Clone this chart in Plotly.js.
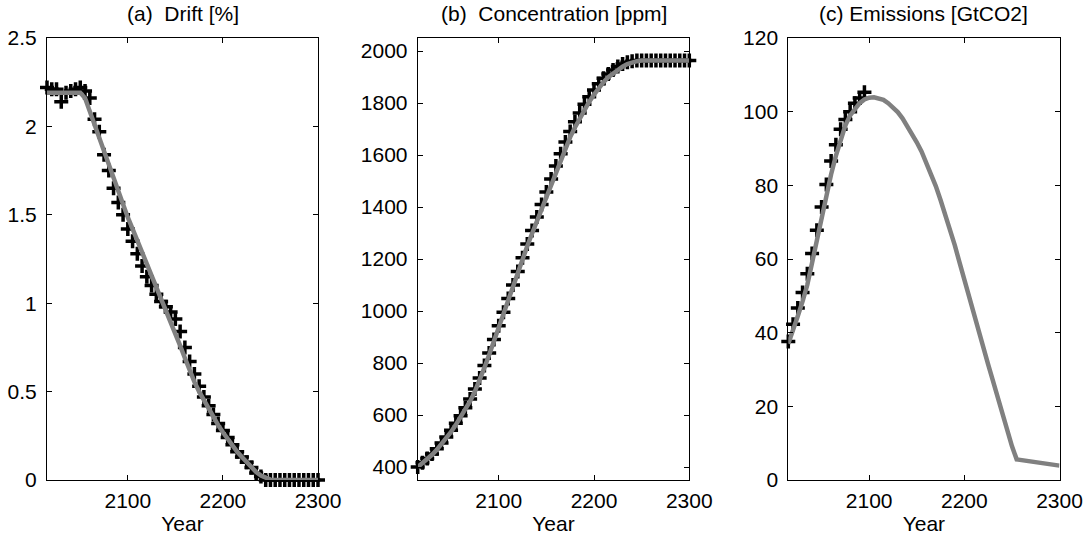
<!DOCTYPE html>
<html>
<head>
<meta charset="utf-8">
<script src="https://cdn.plot.ly/plotly-3.0.1.min.js"></script>
<style>html,body{margin:0;padding:0;background:#fff;}#chart{width:1089px;height:541px;}</style>
</head>
<body>
<div id="chart"></div>
<script>
// Years (5-year steps)
const years = [2015,2020,2025,2030,2035,2040,2045,2050,2055,2060,2065,2070,2075,2080,2085,2090,2095,2100,2105,2110,2115,2120,2125,2130,2135,2140,2145,2150,2155,2160,2165,2170,2175,2180,2185,2190,2195,2200,2205,2210,2215,2220,2225,2230,2235,2240,2245,2250,2255,2260,2265,2270,2275,2280,2285,2290,2295,2300];

// (a) Drift [%]
const driftMarkers = [2.22,2.21,2.21,2.14,2.19,2.20,2.21,2.22,2.20,2.16,2.04,1.97,1.84,1.75,1.65,1.57,1.50,1.42,1.35,1.28,1.21,1.15,1.10,1.05,1.01,0.98,0.95,0.91,0.84,0.75,0.67,0.60,0.53,0.47,0.42,0.37,0.32,0.28,0.24,0.20,0.16,0.13,0.10,0.07,0.04,0.02,0.0,0.0,0.0,0.0,0.0,0.0,0.0,0.0,0.0,0.0,0.0,0.0];
const driftLine = [2.19,2.19,2.19,2.19,2.19,2.19,2.19,2.19,2.16,2.085,2.01,1.935,1.86,1.785,1.71,1.63,1.545,1.485,1.42,1.355,1.29,1.23,1.165,1.10,1.035,0.97,0.90,0.83,0.76,0.69,0.62,0.555,0.50,0.45,0.40,0.355,0.31,0.27,0.23,0.195,0.16,0.13,0.10,0.07,0.045,0.025,0.01,0.002,0,0,0,0,0,0,0,0,0,0];

// (b) Concentration [ppm]
const concMarkers = [400,416,433,450,470,492,515,541,568,597,628,662,700,742,790,838,890,943,995,1048,1100,1152,1205,1258,1310,1362,1410,1458,1508,1558,1605,1650,1690,1728,1762,1795,1824,1850,1874,1895,1912,1927,1940,1950,1957,1961,1963,1963,1963,1963,1963,1963,1963,1963,1963,1963,1963,1963];
const concLine = [400,414,430,447,466,487,510,535,562,590,620,653,690,733,782,832,885,940,995,1048,1100,1150,1200,1250,1298,1345,1390,1435,1483,1533,1583,1630,1669,1706,1742,1775,1805,1832,1858,1880,1899,1914,1928,1940,1950,1957,1961,1963,1963,1963,1963,1963,1963,1963,1963,1963,1963,1963];

// (c) Emissions [GtCO2]
const emisYears = [2015,2020,2025,2030,2035,2040,2045,2050,2055,2060,2065,2070,2075,2080,2085,2090,2095];
const emisMarkers = [37.6,42.3,46.7,50.9,56.0,61.5,67.8,74.1,80.2,86.6,91.0,95.2,97.9,100.0,102.3,103.7,105.3];
const emisLine = [37,40.5,44.5,48.5,53,59,65,71,77.5,83,88,92.5,96.3,99,100.8,102.3,103.3,103.8,103.9,103.7,103.2,102.3,101.2,99.9,98.2,96.2,94.0,91.7,89.2,86.3,83.1,79.8,76.0,72.0,68.1,63.7,59.0,54.3,49.4,44.5,40.0,35.7,31.4,27.0,22.5,17.9,13.5,9.2,5.6,5.4,5.2,5.0,4.8,4.6,4.5,4.3,4.1,3.9];

// Axis tick definitions
const xTicks = [2100,2200,2300];
const driftTicks = [0,0.5,1,1.5,2,2.5];
const concTicks = [400,600,800,1000,1200,1400,1600,1800,2000];
const emisTicks = [0,20,40,60,80,100,120];

const titles = ['(a)\u00a0 Drift [%]','(b)\u00a0 Concentration [ppm]','(c) Emissions [GtCO2]'];

const markerStyle = {symbol:'cross-thin', size:10, color:'#000', line:{color:'#000', width:3.5}};
const lineStyle = {color:'#808080', width:4.5};

const traces = [
  {x:years, y:driftMarkers, mode:'markers', marker:markerStyle, xaxis:'x', yaxis:'y', showlegend:false, cliponaxis:false},
  {x:years, y:driftLine, mode:'lines', line:lineStyle, xaxis:'x', yaxis:'y', showlegend:false},
  {x:years, y:concMarkers, mode:'markers', marker:markerStyle, xaxis:'x2', yaxis:'y2', showlegend:false, cliponaxis:false},
  {x:years, y:concLine, mode:'lines', line:lineStyle, xaxis:'x2', yaxis:'y2', showlegend:false},
  {x:emisYears, y:emisMarkers, mode:'markers', marker:markerStyle, xaxis:'x3', yaxis:'y3', showlegend:false, cliponaxis:false},
  {x:years, y:emisLine, mode:'lines', line:lineStyle, xaxis:'x3', yaxis:'y3', showlegend:false}
];

const W = 1089, H = 541;
const fam = 'Liberation Sans, Arial, sans-serif';
const font = {family:fam, size:21, color:'#000'};
const yDom = [(H-480)/H, (H-38)/H];
const xDoms = [[47/W, 318/W],[417.7/W, 689.3/W],[788.3/W, 1059.5/W]];

function xAxis(dom, anchor){
  return {domain:dom, anchor:anchor, range:[2015,2300], tickvals:xTicks, ticks:'inside', ticklen:5, tickcolor:'#000',
    showline:true, linecolor:'#000', linewidth:1, mirror:'ticks', showgrid:false, zeroline:false,
    tickfont:font, ticklabelstandoff:2,
    title:{text:'Year', font:font, standoff:0}};
}
function yAxis(range, ticks, anchor){
  return {domain:yDom, anchor:anchor, range:range, tickvals:ticks, ticks:'inside', ticklen:5, tickcolor:'#000',
    showline:true, linecolor:'#000', linewidth:1, mirror:'ticks', showgrid:false, zeroline:false,
    tickfont:font, ticklabelstandoff:5};
}

const annotations = titles.map((t,i)=>({
  text:t, xref:'paper', yref:'paper', x:(xDoms[i][0]+xDoms[i][1])/2, y:(H-14)/H,
  xanchor:'center', yanchor:'middle', showarrow:false, font:{family:fam, size:21, color:'#000'}
}));

const layout = {
  width:W, height:H, margin:{l:0,r:0,t:0,b:0}, paper_bgcolor:'#fff', plot_bgcolor:'#fff',
  font:font, showlegend:false,
  xaxis:xAxis(xDoms[0],'y'), yaxis:yAxis([0,2.5], driftTicks,'x'),
  xaxis2:xAxis(xDoms[1],'y2'), yaxis2:yAxis([350,2050], concTicks,'x2'),
  xaxis3:xAxis(xDoms[2],'y3'), yaxis3:yAxis([0,120], emisTicks,'x3'),
  annotations:annotations
};

Plotly.newPlot('chart', traces, layout, {staticPlot:true, displayModeBar:false});
</script>
</body>
</html>
